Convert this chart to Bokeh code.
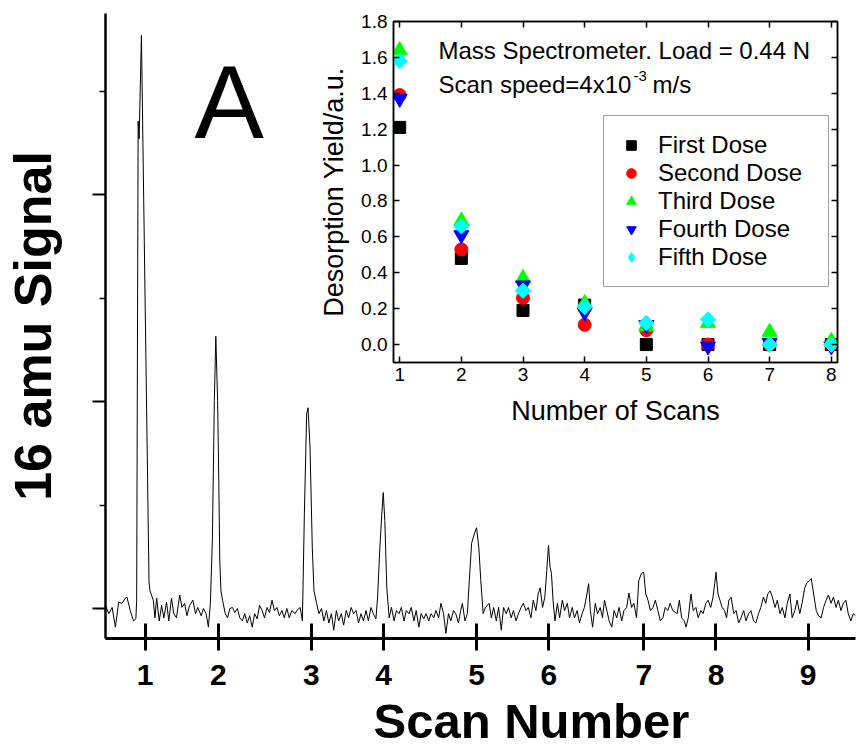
import numpy as np
from bokeh.plotting import figure
from bokeh.models import (Range1d, FixedTicker, LinearAxis, Label, Legend, LegendItem,
                          Column, Title, CustomLabelingPolicy)
from bokeh.embed import file_html
from bokeh.resources import INLINE

FONT = "Liberation Sans"

# ---------------- main trace (16 amu signal vs time) ----------------
time_s = [
    0.00, 0.33, 0.67, 1.00, 1.33, 1.67, 2.00, 2.17, 2.50, 2.83, 3.07, 3.15, 3.30, 3.40, 3.63, 4.40, 4.50,
    4.83, 5.00, 5.17, 5.43, 5.67, 5.90, 6.17, 6.40, 6.67, 6.90, 7.17, 7.50, 7.73, 8.00, 8.23, 8.50, 8.83,
    9.10, 9.33, 9.67, 9.90, 10.17, 10.40, 10.60, 10.80, 10.93, 11.00, 11.15, 11.33, 11.45, 11.55, 11.67,
    11.83, 12.10, 12.33, 12.57, 12.83, 13.07, 13.33, 13.57, 13.83, 14.07, 14.33, 14.57, 14.83, 15.07,
    15.33, 15.57, 15.83, 16.07, 16.33, 16.57, 16.83, 17.07, 17.33, 17.57, 17.83, 18.07, 18.33, 18.57,
    18.83, 19.17, 19.33, 19.67, 19.90, 20.10, 20.33, 20.47, 20.67, 20.90, 21.07, 21.33, 21.57, 21.83,
    22.07, 22.33, 22.57, 22.83, 23.07, 23.33, 23.57, 23.83, 24.07, 24.33, 24.57, 24.83, 25.07, 25.33,
    25.57, 25.83, 26.07, 26.33, 26.57, 26.83, 27.07, 27.33, 27.50, 27.73, 27.93, 28.07, 28.23, 28.43,
    28.67, 28.90, 29.17, 29.40, 29.67, 29.90, 30.17, 30.40, 30.67, 30.90, 31.17, 31.40, 31.67, 31.90,
    32.17, 32.40, 32.67, 32.90, 33.17, 33.40, 33.67, 33.90, 34.17, 34.40, 34.67, 34.90, 35.17, 35.40,
    35.67, 35.90, 36.07, 36.33, 36.57, 36.77, 37.00, 37.27, 37.50, 37.73, 37.93, 38.17, 38.40, 38.77,
    39.00, 39.23, 39.50, 39.73, 40.00, 40.23, 40.50, 40.73, 41.00, 41.23, 41.50, 41.73, 42.00, 42.23,
    42.50, 42.73, 43.00, 43.23, 43.50, 43.73, 43.93, 44.17, 44.40, 44.60, 44.77, 44.93, 45.07, 45.23,
    45.43, 45.67, 45.90, 46.17, 46.40, 46.67, 46.90, 47.17, 47.40, 47.67, 47.90, 48.17, 48.40, 48.60,
    48.83, 49.00, 49.23, 49.50, 49.73, 50.00, 50.23, 50.43, 50.67, 50.90, 51.17, 51.40, 51.67, 51.90,
    52.17, 52.40, 52.67, 52.90, 53.17, 53.40, 53.67, 53.90, 54.17, 54.40, 54.60, 54.83, 55.07, 55.33,
    55.57, 55.83, 56.07, 56.33, 56.57, 56.83, 57.07, 57.33, 57.77, 58.00, 58.23, 58.50, 58.67, 58.90,
    59.17, 59.40, 59.67, 59.90, 60.17, 60.40, 60.67, 60.90, 61.17, 61.40, 61.57, 61.70, 61.90, 62.10,
    62.33, 62.57, 62.77, 63.00, 63.23, 63.50, 63.73, 64.00, 64.23, 64.50, 64.73, 65.00, 65.23, 65.50,
    65.73, 66.00, 66.23, 66.50, 66.73, 66.93, 67.17, 67.40, 67.67, 67.90, 68.17, 68.40, 68.67, 68.90,
    69.17, 69.40, 69.67, 69.90, 70.17, 70.40, 70.67, 70.90, 71.17, 71.33, 71.57, 71.83, 72.07, 72.33,
    72.57, 72.83, 73.07, 73.33, 73.57, 73.83, 74.07, 74.33, 74.57, 74.83, 75.07, 75.33, 75.57, 75.80,
]
signal = [
    0.3, -0.5, 0.1, -1.8, 0.6, 0.5, 1.0, 1.1, -0.2, -1.2, -1.0, 0.8, 47.1, 45.4, 55.4, 2.5, 1.7,
    0.8, -0.9, 1.0, -1.2, 0.3, -0.9, 0.6, -1.2, 1.0, -0.5, -0.9, 1.3, 0.1, 0.5, -0.7, 0.3, 0.8,
    -0.5, 0.1, -0.7, 0.0, -0.5, -1.8, 0.5, 6.6, 15.3, 20.1, 26.3, 20.1, 12.4, 4.6, 1.7,
    0.8, -0.5, -0.9, 0.0, 0.1, -0.4, 0.0, -0.9, -1.2, -0.5, -1.4, -0.7, -1.8, -0.5,
    -1.0, 0.3, -0.2, -0.9, 0.1, -0.4, 0.8, -0.2, 0.1, -0.7, -0.2, -0.9, 0.0, -0.9,
    -0.2, -0.5, -0.2, 0.1, -1.2, 9.2, 18.8, 19.4, 15.6, 5.9, 1.7, 0.5, -0.5, 0.0,
    -1.2, -0.2, -1.4, -0.5, -2.1, -0.2, -1.2, -0.5, -1.6, -0.2, -0.9, 0.1, -0.5, -0.2,
    -1.4, -0.5, -1.2, -0.2, -1.2, 0.1, -0.5, -1.0, 1.1, 5.9, 9.2, 11.2, 8.5, 2.0,
    -0.9, 0.1, -1.2, -0.2, -0.5, 0.1, -1.2, -0.2, -0.5, 0.1, -1.2, -0.2, -1.8, -0.5,
    -1.0, -0.5, -1.2, -0.5, -0.9, -0.2, -0.9, 0.5, -0.5, -2.4, -0.5, -1.2, -0.2, -0.5,
    -1.4, -0.2, 0.5, -1.2, -0.5, 2.7, 6.3, 7.2, 7.8, 5.9, 2.7, -0.5, 0.1, 0.5,
    -0.9, 0.1, -1.2, 0.1, -2.1, 0.1, -0.5, 0.1, -0.9, -0.2, -1.2, -0.5, 0.1, 0.5,
    -0.2, 0.1, -0.9, 0.8, -0.2, 1.4, 2.0, 0.1, 1.1, 3.7, 6.1, 4.0, 3.4, 0.8,
    -1.2, 0.5, -0.9, 0.8, -0.2, 0.5, -0.9, 0.1, -0.9, -0.2, -1.4, -0.5, 0.1, 1.1,
    2.4, -0.2, -1.8, 0.5, -0.5, 0.1, -0.9, 0.8, -0.2, -1.2, -1.8, -0.2, -0.9, 0.1,
    -1.2, -0.2, 0.1, 1.5, 0.1, 0.5, -0.9, 2.7, 3.4, 3.5, 1.4, 0.8, -0.2, 0.1,
    0.8, -0.2, -1.2, -0.9, 0.1, -0.2, 0.5, -0.2, -0.5, 0.8, -0.9, -1.2, -1.8, -0.9,
    1.4, -0.2, 0.1, -0.9, -0.2, -0.5, 0.5, 0.8, 0.1, 1.1, 2.4, 3.5, 1.4, 0.8,
    0.1, -0.2, -0.9, 0.8, 1.1, -0.5, -0.2, -1.4, -0.9, -0.2, -1.2, -0.5, -0.2, -1.2,
    -1.4, -0.5, 0.1, 1.1, 0.5, 1.4, 1.7, 1.1, 0.1, 0.8, -0.5, 0.1, -0.9, 0.5,
    1.4, -0.9, -0.2, 0.8, -0.5, 0.5, 2.0, 2.5, 2.7, 2.9, 1.4, -0.2, -0.7, -0.9,
    0.1, 0.8, 1.3, 0.5, 1.1, 0.1, 0.8, -0.2, 0.5, 0.8, -0.5, -1.2, -0.5, -0.7,
]
scan_pos = [4.0, 11.4, 20.8, 28.1, 37.5, 44.8, 54.4, 61.7, 71.0]
scan_labels = ["1", "2", "3", "4", "5", "6", "7", "8", "9"]
signal_major = [0, 20, 40]
signal_minor = [10, 30, 50]

# ---------------- inset data ----------------
scans = [1, 2, 3, 4, 5, 6, 7, 8]
first_dose = [1.21, 0.48, 0.19, 0.22, 0.00, 0.00, 0.00, 0.00]
second_dose = [1.39, 0.53, 0.26, 0.11, 0.08, 0.00, 0.00, 0.00]
third_dose = [1.64, 0.69, 0.37, 0.23, 0.10, 0.12, 0.07, 0.02]
fourth_dose = [1.37, 0.61, 0.33, 0.18, 0.11, -0.01, 0.01, -0.01]
fifth_dose = [1.58, 0.66, 0.30, 0.21, 0.12, 0.14, 0.00, 0.00]
inset_yticks = [0.0, 0.2, 0.4, 0.6, 0.8, 1.0, 1.2, 1.4, 1.6, 1.8]


def no_labels():
    # axes that carry only tick marks, no tick labels
    return CustomLabelingPolicy(code="const E = indices.constructor; return new E(indices.size, 0);")


# ---------------- main figure ----------------
p = figure(width=863, height=753, output_backend="svg", toolbar_location=None,
           x_range=Range1d(0, 75.8), y_range=Range1d(-2.9, 57.5),
           min_border_left=105, min_border_right=0, min_border_top=13, min_border_bottom=115)
p.outline_line_color = None
p.grid.visible = False
p.background_fill_color = "white"

p.line(time_s, signal, line_color="black", line_width=1)

xa = p.xaxis[0]
xa.ticker = FixedTicker(ticks=scan_pos, minor_ticks=[])
xa.major_label_overrides = {pos: lab for pos, lab in zip(scan_pos, scan_labels)}
xa.axis_line_width = 3
xa.major_tick_in = 15
xa.major_tick_out = 12
xa.major_tick_line_width = 3
xa.minor_tick_line_color = None
xa.major_label_text_font = FONT
xa.major_label_text_font_style = "bold"
xa.major_label_text_font_size = "30px"
xa.major_label_text_color = "black"
xa.major_label_standoff = 14

ya = p.yaxis[0]
ya.ticker = FixedTicker(ticks=signal_major, minor_ticks=signal_minor)
ya.axis_line_width = 2.5
ya.major_tick_in = 0
ya.major_tick_out = 13
ya.major_tick_line_width = 2
ya.minor_tick_in = 0
ya.minor_tick_out = 6
ya.minor_tick_line_width = 1.5
ya.minor_tick_line_color = "black"
ya.major_label_text_font_size = "1px"
ya.major_label_policy = no_labels()
ya.major_label_standoff = 0
ya.axis_label = "16 amu Signal"
ya.axis_label_text_font = FONT
ya.axis_label_text_font_style = "bold"
ya.axis_label_text_font_size = "52px"
ya.axis_label_text_color = "black"
ya.axis_label_standoff = 26

p.add_layout(Title(text="Scan Number", align="left", offset=268, standoff=9,
                   text_font=FONT, text_font_style="bold", text_font_size="49px",
                   text_color="black"), "below")
p.add_layout(Label(x=12.5, y=48.9, text="A", text_align="center",
                   text_baseline="middle", text_font=FONT,
                   text_font_size="104px", text_color="black"))

# ---------------- inset figure ----------------
ins = figure(width=557, height=436, output_backend="svg", toolbar_location=None,
             x_range=Range1d(0.9, 8.1), y_range=Range1d(-0.1, 1.8),
             min_border_left=101, min_border_right=8, min_border_top=21, min_border_bottom=74)
ins.grid.visible = False
ins.background_fill_color = "white"
ins.border_fill_color = None
ins.outline_line_color = "black"
ins.outline_line_width = 1.5

r1 = ins.scatter(scans, first_dose, marker="square", size=12, color="black")
r2 = ins.scatter(scans, second_dose, marker="circle", size=13, color="red")
r3 = ins.scatter(scans, third_dose, marker="triangle", size=15, color="#00FF00")
r4 = ins.scatter(scans, fourth_dose, marker="inverted_triangle", size=15, color="blue")
r5 = ins.scatter(scans, fifth_dose, marker="square", angle=np.pi / 4, size=11, color="cyan")
# legend key for the fifth series (a diamond, like the rotated squares)
r5_key = ins.scatter([float("nan")], [float("nan")], marker="diamond", size=15, color="cyan")

for ax in (ins.xaxis[0], ins.yaxis[0]):
    ax.axis_line_width = 1.5
    ax.major_tick_in = 6
    ax.major_tick_out = 0
    ax.major_tick_line_width = 1.5
    ax.minor_tick_line_color = None
    ax.major_label_text_font = FONT
    ax.major_label_text_font_size = "19px"
    ax.major_label_text_color = "black"
    ax.axis_label_text_font = FONT
    ax.axis_label_text_font_size = "27px"
    ax.axis_label_text_font_style = "normal"
    ax.axis_label_text_color = "black"

ins.xaxis[0].ticker = FixedTicker(ticks=scans, minor_ticks=[])
ins.yaxis[0].ticker = FixedTicker(ticks=inset_yticks, minor_ticks=[])
ins.yaxis[0].major_label_overrides = {t: f"{t:.1f}" for t in inset_yticks}
ins.xaxis[0].axis_label = "Number of Scans"
ins.yaxis[0].axis_label = "Desorption Yield/a.u."
ins.xaxis[0].major_label_standoff = 5
ins.xaxis[0].axis_label_standoff = 12
ins.yaxis[0].major_label_standoff = 6
ins.yaxis[0].axis_label_standoff = 9

top_ax = LinearAxis(ticker=FixedTicker(ticks=scans, minor_ticks=[]))
right_ax = LinearAxis(ticker=FixedTicker(ticks=inset_yticks, minor_ticks=[]))
for ax in (top_ax, right_ax):
    ax.axis_line_width = 1.5
    ax.major_tick_in = 6
    ax.major_tick_out = 0
    ax.major_tick_line_width = 1.5
    ax.minor_tick_line_color = None
    ax.major_label_text_font_size = "1px"
    ax.major_label_policy = no_labels()
    ax.major_label_standoff = 0
ins.add_layout(top_ax, "above")
ins.add_layout(right_ax, "right")

legend = Legend(items=[
    LegendItem(label="First Dose", renderers=[r1]),
    LegendItem(label="Second Dose", renderers=[r2]),
    LegendItem(label="Third Dose", renderers=[r3]),
    LegendItem(label="Fourth Dose", renderers=[r4]),
    LegendItem(label="Fifth Dose", renderers=[r5_key]),
], location=(210, 75), label_text_font=FONT, label_text_font_size="24px",
    label_text_color="black", glyph_width=24, glyph_height=26, label_height=26,
    label_width=155, spacing=0, padding=15, margin=0, label_standoff=15,
    border_line_color="#444444", border_line_width=1, background_fill_color="white",
    background_fill_alpha=1.0)
ins.add_layout(legend)

ins.add_layout(Label(x=1.63, y=1.641, text="Mass Spectrometer. Load = 0.44 N",
                     text_font=FONT, text_font_size="24px", text_color="black",
                     text_baseline="middle"))
ins.add_layout(Label(x=1.63, y=1.451, text="Scan speed=4x10",
                     text_font=FONT, text_font_size="24px", text_color="black",
                     text_baseline="middle"))
ins.add_layout(Label(x=4.792, y=1.495, text="-3",
                     text_font=FONT, text_font_size="15px", text_color="black",
                     text_baseline="middle"))
ins.add_layout(Label(x=5.10, y=1.451, text="m/s",
                     text_font=FONT, text_font_size="24px", text_color="black",
                     text_baseline="middle"))

ins.styles = {"position": "absolute", "left": "288px", "top": "0px", "z-index": "5"}

root = Column(children=[p, ins], styles={"position": "relative"})

open("out.html", "w").write(file_html(root, INLINE))
